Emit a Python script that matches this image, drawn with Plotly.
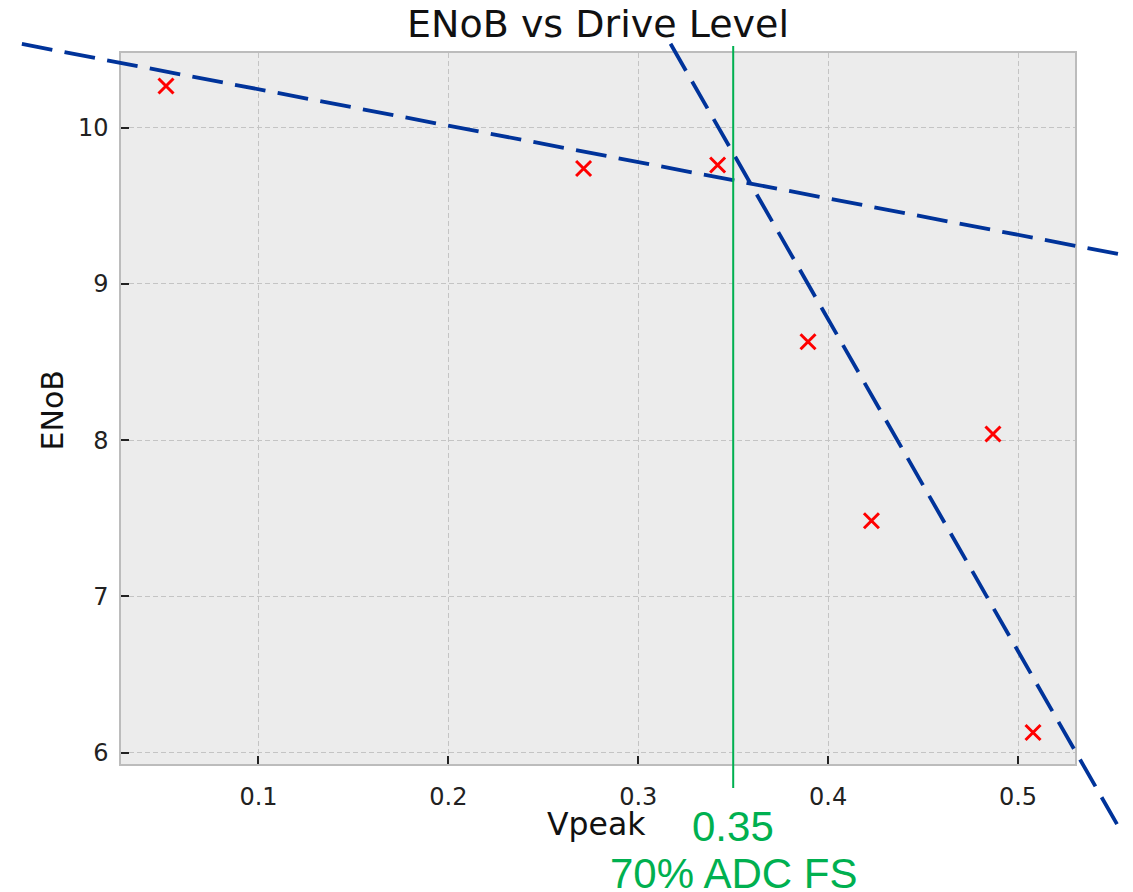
import plotly.graph_objects as go

# Measured ENoB at each drive level
vpeak = [0.0513, 0.2712, 0.3418, 0.3894, 0.4228, 0.4868, 0.5079]
enob = [10.267, 9.739, 9.761, 8.630, 7.485, 8.040, 6.130]

# Straight-line trends (end points in data units)
trend_flat_x = [-0.0246, 0.5527]
trend_flat_y = [10.536, 9.192]
trend_steep_x = [0.3170, 0.5527]
trend_steep_y = [10.537, 5.531]

# 70% of ADC full scale
fs70_x = 0.35
fs70_y = [10.523, 5.774]

x_ticks = [0.1, 0.2, 0.3, 0.4, 0.5]
y_ticks = [6, 7, 8, 9, 10]
x_range = [0.0276, 0.5300]
y_range = [5.928, 10.480]

# Canvas and plot-box geometry (pixels)
W, H = 1133, 892
L, R, T, B = 121, 1075, 52.7, 764

# A second, invisible subplot covering the whole canvas on the same scale,
# so the reference lines can run past the plot frame.
kx = (x_range[1] - x_range[0]) / (R - L)
ky = (y_range[1] - y_range[0]) / (B - T)
x_full = [x_range[0] - L * kx, x_range[1] + (W - R) * kx]
y_full = [y_range[0] - (H - B) * ky, y_range[1] + T * ky]

BLUE = "#00339a"
GREEN = "#00b050"
TICK_FONT = dict(family="DejaVu Sans", size=24, color="#222222")

fig = go.Figure()

fig.add_trace(go.Scatter(
    x=vpeak, y=enob, mode="markers",
    marker=dict(symbol="x-thin", size=15, line=dict(width=3, color="#ff0000")),
    xaxis="x", yaxis="y", showlegend=False, hoverinfo="x+y",
))

for xs, ys in [(trend_flat_x, trend_flat_y), (trend_steep_x, trend_steep_y)]:
    fig.add_trace(go.Scatter(
        x=xs, y=ys, mode="lines",
        line=dict(color=BLUE, width=3.8, dash="31px,12.4px"),
        xaxis="x2", yaxis="y2", showlegend=False, hoverinfo="skip",
    ))

fig.add_trace(go.Scatter(
    x=[fs70_x, fs70_x], y=fs70_y, mode="lines",
    line=dict(color=GREEN, width=2),
    xaxis="x2", yaxis="y2", showlegend=False, hoverinfo="skip",
))

axis_common = dict(
    showline=True, mirror=True, linecolor="#bcbcbc", linewidth=1.5,
    showgrid=True, gridcolor="#c4c4c4", gridwidth=1, griddash="5px,3px",
    ticks="inside", ticklen=8, tickwidth=1.5, tickcolor="#222222",
    tickfont=TICK_FONT, zeroline=False, automargin=False,
)

fig.update_layout(
    width=W, height=H,
    margin=dict(l=0, r=0, t=0, b=0),
    paper_bgcolor="white",
    plot_bgcolor="rgba(0,0,0,0)",
    template="none",
    xaxis=dict(domain=[L / W, R / W], range=x_range, anchor="y",
               tickvals=x_ticks, ticktext=[f"{v:.1f}" for v in x_ticks],
               ticklabelstandoff=10, **axis_common),
    yaxis=dict(domain=[1 - B / H, 1 - T / H], range=y_range, anchor="x",
               tickvals=y_ticks, ticktext=[str(v) for v in y_ticks],
               ticklabelstandoff=6, **axis_common),
    xaxis2=dict(domain=[0, 1], range=x_full, anchor="y2", visible=False,
                showgrid=False, zeroline=False, automargin=False),
    yaxis2=dict(domain=[0, 1], range=y_full, anchor="x2", visible=False,
                showgrid=False, zeroline=False, automargin=False),
    title=dict(text="ENoB vs Drive Level", x=(L + R) / 2 / W, xanchor="center",
               y=1 - 23.5 / H, yanchor="middle", yref="paper",
               font=dict(family="DejaVu Sans", size=38, color="#111111")),
    shapes=[dict(type="rect", xref="x domain", yref="y domain",
                 x0=0, x1=1, y0=0, y1=1, fillcolor="#ececec",
                 line=dict(width=0), layer="below")],
    annotations=[
        dict(text="Vpeak", xref="paper", yref="paper",
             x=(L + R) / 2 / W - 1.5 / W, y=1 - 824 / H, xanchor="center", yanchor="middle",
             showarrow=False, font=dict(family="DejaVu Sans", size=31.5, color="#111111")),
        dict(text="ENoB", xref="paper", yref="paper", textangle=-90,
             x=52.5 / W, y=1 - 411 / H, xanchor="center", yanchor="middle",
             showarrow=False, font=dict(family="DejaVu Sans", size=30, color="#111111")),
        dict(text="0.35", xref="x", yref="paper",
             x=fs70_x, y=1 - 826 / H, xanchor="center", yanchor="middle",
             showarrow=False, font=dict(family="Liberation Sans", size=42, color=GREEN)),
        dict(text="70% ADC FS", xref="x", yref="paper",
             x=fs70_x, y=1 - 873 / H, xanchor="center", yanchor="middle",
             showarrow=False, font=dict(family="Liberation Sans", size=42, color=GREEN)),
    ],
)

fig.write_html("out.html")
